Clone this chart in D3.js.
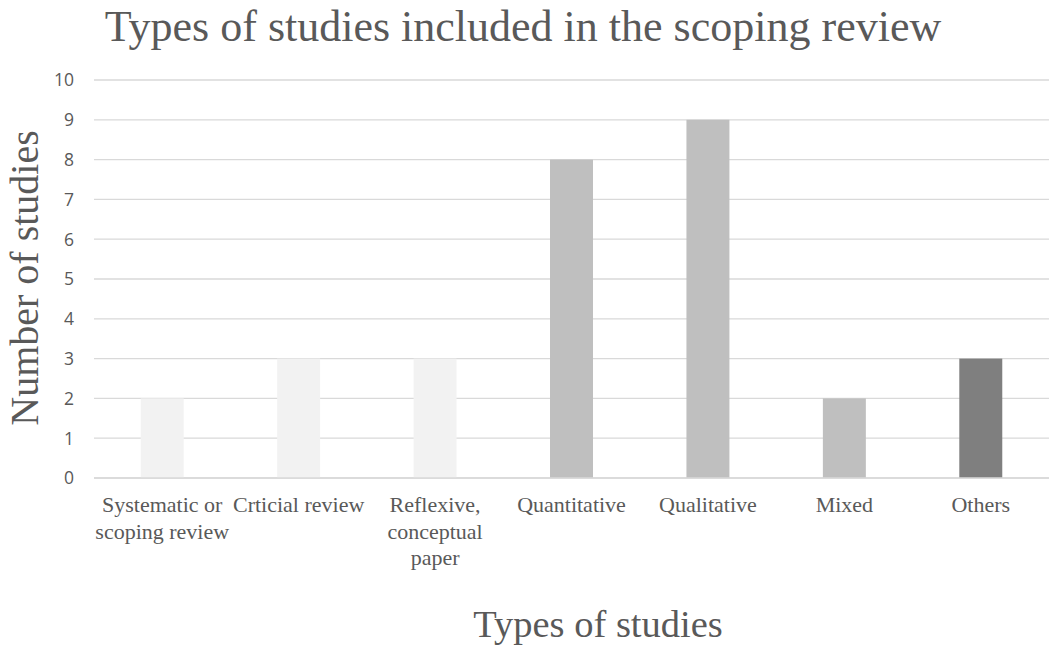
<!DOCTYPE html>
<html>
<head>
<meta charset="utf-8">
<script src="https://cdn.jsdelivr.net/npm/d3@7"></script>
<style>
  html, body { margin: 0; padding: 0; background: #fff; }
  svg { display: block; }
</style>
</head>
<body>
<svg id="chart" width="1049" height="646"></svg>
<script>
// Study types and counts
const categories = [
  ["Systematic or", "scoping review"],
  ["Crticial review"],
  ["Reflexive,", "conceptual", "paper"],
  ["Quantitative"],
  ["Qualitative"],
  ["Mixed"],
  ["Others"]
];
const counts = [2, 3, 3, 8, 9, 2, 3];
const barColors = ["#f2f2f2", "#f2f2f2", "#f2f2f2", "#bfbfbf", "#bfbfbf", "#bfbfbf", "#7f7f7f"];
const yTicks = [0, 1, 2, 3, 4, 5, 6, 7, 8, 9, 10];

const svg = d3.select("#chart");
const plot = { left: 94, right: 1049, top: 80, bottom: 478 };
const serif = "'Liberation Serif', 'Times New Roman', serif";

const keys = categories.map(c => c.join(" "));
const x = d3.scaleBand().domain(keys).range([plot.left, plot.right]).paddingInner(0.685).paddingOuter(0.3425);
const y = d3.scaleLinear().domain([0, 10]).range([plot.bottom, plot.top]);

// gridlines
svg.append("g").selectAll("line").data(yTicks).join("line")
  .attr("x1", plot.left).attr("x2", plot.right)
  .attr("y1", d => y(d)).attr("y2", d => y(d))
  .attr("stroke", "#d9d9d9").attr("stroke-width", 1.3);

// bars
svg.append("g").selectAll("rect").data(counts).join("rect")
  .attr("x", (d, i) => x(keys[i]))
  .attr("width", x.bandwidth())
  .attr("y", d => y(d))
  .attr("height", d => y(0) - y(d))
  .attr("fill", (d, i) => barColors[i]);

// baseline
svg.append("line").attr("x1", plot.left).attr("x2", plot.right)
  .attr("y1", y(0)).attr("y2", y(0))
  .attr("stroke", "#d9d9d9").attr("stroke-width", 1.5);

// y tick labels
svg.append("g").selectAll("text").data(yTicks).join("text")
  .attr("x", 74).attr("y", d => y(d)).attr("dy", "0.36em")
  .attr("text-anchor", "end")
  .attr("font-family", "'Open Sans', 'Liberation Sans', sans-serif")
  .attr("font-size", 17.5).attr("fill", "#595959")
  .text(d => d);

// category labels
const catG = svg.append("g").selectAll("text").data(categories).join("text")
  .attr("text-anchor", "middle")
  .attr("font-family", serif)
  .attr("font-size", 22).attr("fill", "#595959")
  .attr("transform", (d, i) => `translate(${x(keys[i]) + x.bandwidth() / 2},${512})`);
catG.selectAll("tspan").data(d => d).join("tspan")
  .attr("x", 0).attr("dy", (d, j) => j === 0 ? 0 : 26.5)
  .text(d => d);

// title
svg.append("text")
  .attr("x", 523).attr("y", 41)
  .attr("text-anchor", "middle")
  .attr("font-family", serif)
  .attr("font-size", 44).attr("fill", "#595959")
  .text("Types of studies included in the scoping review");

// axis titles
svg.append("text")
  .attr("transform", `translate(38,278) rotate(-90)`)
  .attr("text-anchor", "middle")
  .attr("font-family", serif)
  .attr("font-size", 40).attr("fill", "#595959")
  .text("Number of studies");

svg.append("text")
  .attr("x", 598).attr("y", 637)
  .attr("text-anchor", "middle")
  .attr("font-family", serif)
  .attr("font-size", 38.5).attr("fill", "#595959")
  .text("Types of studies");
</script>
</body>
</html>
